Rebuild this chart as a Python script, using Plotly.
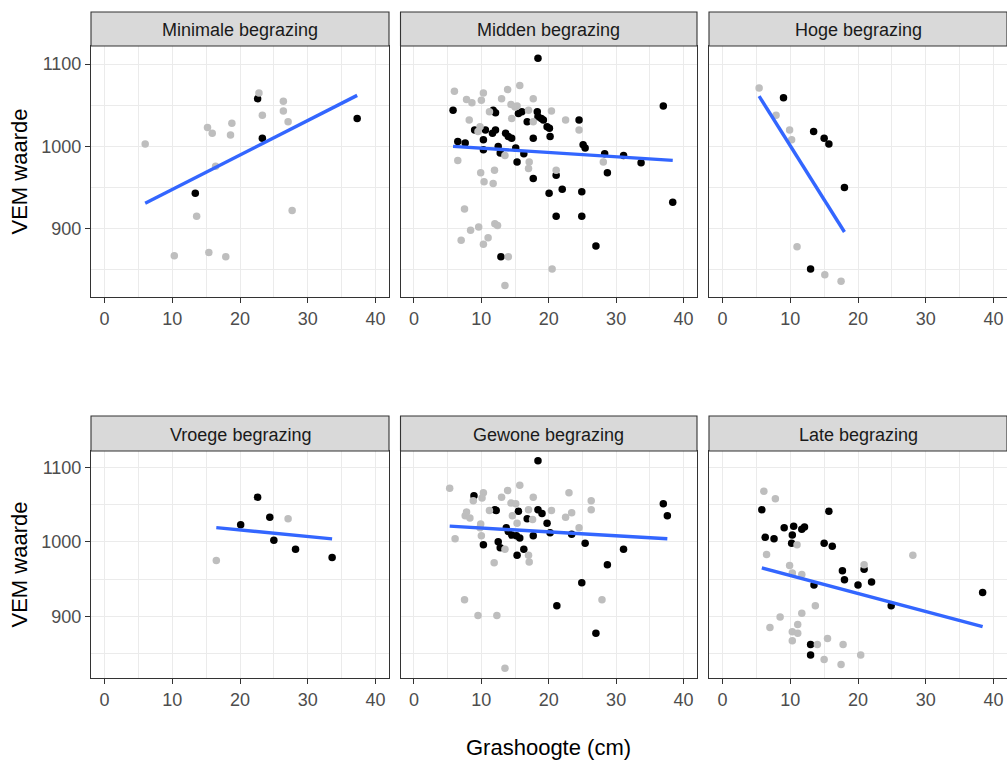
import plotly.graph_objects as go

# ---------------- data ----------------
PANELS = ["Minimale begrazing", "Midden begrazing", "Hoge begrazing",
          "Vroege begrazing", "Gewone begrazing", "Late begrazing"]

# Minimale begrazing
min_grey = [(6.0, 1003), (10.3, 867), (13.6, 915), (15.2, 1023), (15.9, 1016),
            (15.4, 871), (16.4, 976), (18.6, 1014), (18.8, 1028), (17.9, 866),
            (22.8, 1065), (23.3, 1038), (26.4, 1055), (26.4, 1043), (27.1, 1030),
            (27.7, 922)]
min_black = [(22.6, 1058), (23.3, 1010), (13.4, 943), (37.3, 1034)]
min_fit = [(6.0, 931), (37.3, 1062)]

# Midden begrazing
mid_grey = [(6.0, 1067), (6.5, 983), (7.0, 886), (7.5, 924), (7.8, 1057), (8.6, 1053),
            (8.2, 1032), (8.4, 898), (9.5, 1018), (9.8, 1024), (9.6, 902), (9.9, 968),
            (10.3, 1065), (10.0, 1056), (10.4, 957), (10.3, 881), (11.0, 889), (11.2, 1042),
            (11.75, 955), (11.95, 971), (12.0, 906), (12.4, 904), (13.0, 1058), (13.5, 989),
            (13.9, 1069), (14.0, 866), (13.5, 831), (14.4, 1051), (14.5, 1034), (15.0, 1048),
            (15.3, 1049), (15.7, 1074), (17.0, 1044), (17.1, 981), (17.0, 973), (17.7, 1058),
            (17.7, 1030), (20.4, 1043), (20.5, 851), (21.1, 971), (22.5, 1032), (24.5, 1020),
            (28.1, 981)]
mid_black = [(18.4, 1107), (37.0, 1049), (5.8, 1044), (6.5, 1006), (7.6, 1004), (9.0, 1020),
             (10.6, 1020), (10.3, 1008), (10.3, 996), (11.75, 1044), (12.1, 1041), (11.65, 1016),
             (12.1, 1020), (12.5, 1000), (12.8, 992), (13.6, 1016), (14.0, 1012), (14.5, 1010),
             (15.1, 998), (15.3, 981), (15.5, 1040), (16.0, 1042), (16.3, 991), (16.8, 1030),
             (17.7, 1010), (17.7, 961), (18.3, 1042), (18.4, 1036), (18.9, 1034), (19.2, 1032),
             (19.75, 1024), (20.1, 1022), (20.2, 1012), (20.05, 943), (21.1, 965), (21.1, 915),
             (22.0, 948), (24.5, 1032), (25.1, 1002), (25.4, 998), (24.9, 945), (24.9, 915),
             (27.0, 879), (28.3, 991), (28.7, 968), (31.1, 989), (33.7, 980), (38.4, 932),
             (12.9, 866)]
mid_fit = [(5.8, 1000), (38.4, 983)]

# Hoge begrazing
hoog_grey = [(5.4, 1071), (7.9, 1038), (9.9, 1020), (10.2, 1008), (11.0, 878),
             (15.1, 844), (17.5, 836)]
hoog_black = [(9.0, 1059), (13.45, 1018), (15.0, 1010), (15.7, 1003), (18.0, 950), (13.0, 851)]
hoog_fit = [(5.4, 1061), (18.0, 896)]

# Vroege begrazing
vroeg_grey = [(16.5, 975), (27.1, 1031)]
vroeg_black = [(22.6, 1060), (20.1, 1023), (24.4, 1033), (25.0, 1002), (28.2, 990), (33.6, 979)]
vroeg_fit = [(16.5, 1019), (33.6, 1004)]

# Gewone begrazing
gew_grey = [(5.3, 1072), (6.1, 1004), (7.5, 922), (7.6, 1035), (7.8, 1040), (8.3, 1032),
            (8.8, 1055), (9.5, 901), (9.9, 1024), (9.8, 1019), (10.0, 1008), (10.3, 1066),
            (10.1, 1059), (11.2, 1042), (11.9, 972), (12.3, 901), (13.0, 1060), (13.5, 990),
            (13.9, 1069), (13.5, 830), (14.4, 1052), (14.6, 1035), (15.1, 1051), (15.3, 1025),
            (15.7, 1076), (17.0, 1043), (17.0, 982), (17.1, 973), (17.7, 1060), (17.6, 1030),
            (20.4, 1042), (22.5, 1033), (23.0, 1066), (23.4, 1039), (24.5, 1019), (26.3, 1055),
            (26.3, 1043), (27.9, 922)]
gew_black = [(18.4, 1109), (8.9, 1062), (12.0, 1043), (12.2, 1042), (15.5, 1041), (16.8, 1031),
             (18.4, 1043), (19.0, 1038), (19.75, 1025), (20.2, 1012), (13.7, 1019), (14.0, 1014),
             (14.5, 1009), (15.2, 1008), (15.7, 1005), (12.5, 1000), (12.8, 992), (10.3, 996),
             (15.3, 982), (16.3, 990), (17.7, 1008), (23.4, 1010), (25.4, 998), (31.1, 990),
             (28.7, 969), (24.9, 945), (21.2, 914), (27.0, 877), (37.0, 1051), (37.6, 1035)]
gew_fit = [(5.3, 1021), (37.6, 1004)]

# Late begrazing
laat_grey = [(6.1, 1068), (7.8, 1058), (6.5, 983), (11.0, 996), (9.9, 968), (10.3, 958),
             (11.7, 956), (7.0, 885), (8.5, 899), (11.7, 904), (13.7, 914), (11.1, 889),
             (10.3, 879), (11.1, 877), (10.3, 867), (14.0, 862), (15.5, 870), (17.8, 862),
             (15.0, 842), (17.5, 835), (20.4, 848), (20.9, 969), (28.1, 982)]
laat_black = [(5.8, 1043), (6.3, 1006), (7.6, 1004), (9.1, 1019), (10.5, 1021), (10.3, 1009),
              (10.2, 998), (11.7, 1017), (12.1, 1020), (15.7, 1041), (15.0, 998), (16.2, 994),
              (17.7, 961), (18.0, 949), (20.0, 942), (20.9, 963), (22.0, 946), (13.5, 942),
              (24.9, 914), (38.4, 932), (13.0, 862), (13.0, 848)]
laat_fit = [(5.8, 965), (38.4, 886)]

GREY_SETS = [min_grey, mid_grey, hoog_grey, vroeg_grey, gew_grey, laat_grey]
BLACK_SETS = [min_black, mid_black, hoog_black, vroeg_black, gew_black, laat_black]
FIT_SETS = [min_fit, mid_fit, hoog_fit, vroeg_fit, gew_fit, laat_fit]

X_TICKS = [0, 10, 20, 30, 40]
Y_TICKS = [900, 1000, 1100]
X_TITLE = "Grashoogte (cm)"
Y_TITLE = "VEM waarde"

# ---------------- layout geometry ----------------
W, H = 1007, 765
COLS = [(91, 389), (400.5, 697), (709, 1007)]
ROWS = [(46, 297), (451, 678)]          # plot areas (top, bottom) in px
STRIPS = [(12, 46), (416, 451)]

FONT = "Liberation Sans, Arial, sans-serif"

def px_x(v):
    return v / W

def px_y(v):
    return 1 - v / H

fig = go.Figure()

for i in range(6):
    r, c = divmod(i, 3)
    ax = "" if i == 0 else str(i + 1)
    xref, yref = "x" + ax, "y" + ax
    g = GREY_SETS[i]
    b = BLACK_SETS[i]
    f = FIT_SETS[i]
    fig.add_trace(go.Scatter(x=[p[0] for p in b], y=[p[1] for p in b], mode="markers",
                             marker=dict(color="#000000", size=7.5, line=dict(width=0)),
                             xaxis=xref, yaxis=yref, showlegend=False, hoverinfo="skip"))
    fig.add_trace(go.Scatter(x=[p[0] for p in g], y=[p[1] for p in g], mode="markers",
                             marker=dict(color="#BEBEBE", size=7.5, line=dict(width=0)),
                             xaxis=xref, yaxis=yref, showlegend=False, hoverinfo="skip"))
    fig.add_trace(go.Scatter(x=[p[0] for p in f], y=[p[1] for p in f], mode="lines",
                             line=dict(color="#3366FF", width=3.4),
                             xaxis=xref, yaxis=yref, showlegend=False, hoverinfo="skip"))

    x0, x1 = COLS[c]
    yt, yb = ROWS[r]
    fig.layout["xaxis" + ax] = dict(
        domain=[px_x(x0), px_x(x1)], anchor=yref, range=[-2, 42],
        tickvals=X_TICKS, ticks="outside", ticklen=5, tickwidth=1.1, tickcolor="#333333",
        showgrid=True, gridcolor="#EBEBEB", gridwidth=1.1,
        minor=dict(tickvals=[5, 15, 25, 35], showgrid=True, gridcolor="#EBEBEB",
                   gridwidth=0.6, ticks=""),
        showline=True, mirror=True, linecolor="#333333", linewidth=1.1,
        zeroline=False, tickfont=dict(family=FONT, size=18, color="#4D4D4D"),
        fixedrange=True)
    fig.layout["yaxis" + ax] = dict(
        domain=[px_y(yb), px_y(yt)], anchor=xref, range=[817, 1122],
        tickvals=Y_TICKS, ticks="outside" if c == 0 else "", ticklen=5, tickwidth=1.1,
        tickcolor="#333333", showticklabels=(c == 0),
        showgrid=True, gridcolor="#EBEBEB", gridwidth=1.1,
        minor=dict(tickvals=[850, 950, 1050], showgrid=True, gridcolor="#EBEBEB",
                   gridwidth=0.6, ticks=""),
        showline=True, mirror=True, linecolor="#333333", linewidth=1.1,
        zeroline=False, tickfont=dict(family=FONT, size=18, color="#4D4D4D"),
        fixedrange=True)

    # strip
    s0, s1 = STRIPS[r]
    fig.add_shape(type="rect", xref="paper", yref="paper",
                  x0=px_x(x0), x1=px_x(x1), y0=px_y(s1), y1=px_y(s0),
                  fillcolor="#D9D9D9", line=dict(color="#333333", width=1.1), layer="above")
    fig.add_annotation(x=px_x((x0 + x1) / 2), y=px_y((s0 + s1) / 2 + 1), xref="paper",
                       yref="paper", text=PANELS[i], showarrow=False,
                       xanchor="center", yanchor="middle",
                       font=dict(family=FONT, size=18, color="#1A1A1A"))

# axis titles
for (yt, yb) in ROWS:
    fig.add_annotation(x=px_x(19), y=px_y((yt + yb) / 2), xref="paper", yref="paper",
                       text=Y_TITLE, textangle=-90, showarrow=False,
                       xanchor="center", yanchor="middle",
                       font=dict(family=FONT, size=22, color="#000000"))
fig.add_annotation(x=px_x(548), y=px_y(747), xref="paper", yref="paper",
                   text=X_TITLE, showarrow=False, xanchor="center", yanchor="middle",
                   font=dict(family=FONT, size=22, color="#000000"))

fig.update_layout(width=W, height=H, margin=dict(l=0, r=0, t=0, b=0),
                  paper_bgcolor="white", plot_bgcolor="white", showlegend=False)

fig.write_html("out.html")
